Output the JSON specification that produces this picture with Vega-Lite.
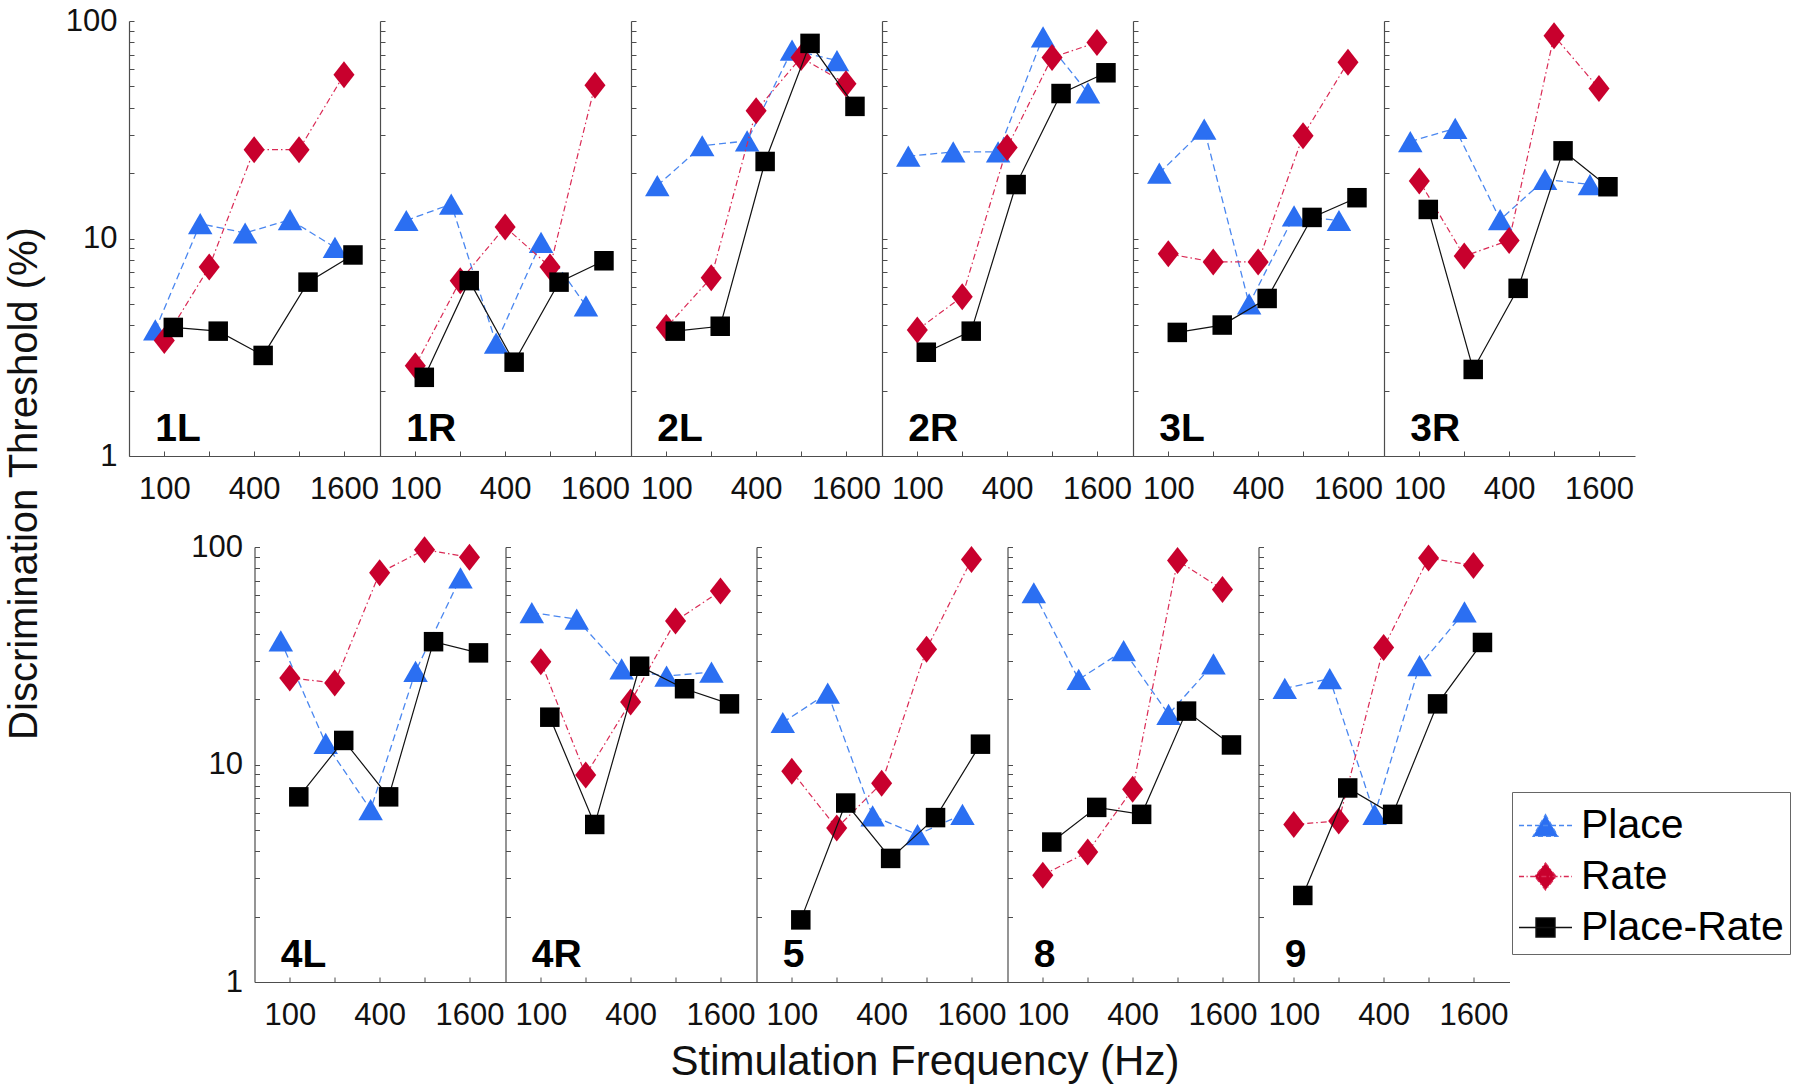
{
"$schema":"https://vega.github.io/schema/vega-lite/v6.json",
"background":"white",
"padding":5,
"title":{"text":"Discrimination Threshold (%)","orient":"left","anchor":"middle","fontSize":40,"font":"Liberation Sans","fontWeight":"normal","color":"#111111","offset":20,"dx":60},
"data":{"values":[
{"panel":"1L","method":"Place","freq":100,"threshold":3.8},{"panel":"1L","method":"Place","freq":200,"threshold":11.7},{"panel":"1L","method":"Place","freq":400,"threshold":10.6},{"panel":"1L","method":"Place","freq":800,"threshold":12.2},{"panel":"1L","method":"Place","freq":1600,"threshold":9.1},
{"panel":"1L","method":"Rate","freq":100,"threshold":3.4},{"panel":"1L","method":"Rate","freq":200,"threshold":7.4},{"panel":"1L","method":"Rate","freq":400,"threshold":25.6},{"panel":"1L","method":"Rate","freq":800,"threshold":25.6},{"panel":"1L","method":"Rate","freq":1600,"threshold":56.6},
{"panel":"1L","method":"Place-Rate","freq":100,"threshold":3.9},{"panel":"1L","method":"Place-Rate","freq":200,"threshold":3.75},{"panel":"1L","method":"Place-Rate","freq":400,"threshold":2.9},{"panel":"1L","method":"Place-Rate","freq":800,"threshold":6.3},{"panel":"1L","method":"Place-Rate","freq":1600,"threshold":8.4},
{"panel":"1R","method":"Place","freq":100,"threshold":12.1},{"panel":"1R","method":"Place","freq":200,"threshold":14.4},{"panel":"1R","method":"Place","freq":400,"threshold":3.3},{"panel":"1R","method":"Place","freq":800,"threshold":9.6},{"panel":"1R","method":"Place","freq":1600,"threshold":4.9},
{"panel":"1R","method":"Rate","freq":100,"threshold":2.6},{"panel":"1R","method":"Rate","freq":200,"threshold":6.4},{"panel":"1R","method":"Rate","freq":400,"threshold":11.3},{"panel":"1R","method":"Rate","freq":800,"threshold":7.4},{"panel":"1R","method":"Rate","freq":1600,"threshold":50.6},
{"panel":"1R","method":"Place-Rate","freq":100,"threshold":2.3},{"panel":"1R","method":"Place-Rate","freq":200,"threshold":6.4},{"panel":"1R","method":"Place-Rate","freq":400,"threshold":2.7},{"panel":"1R","method":"Place-Rate","freq":800,"threshold":6.3},{"panel":"1R","method":"Place-Rate","freq":1600,"threshold":7.9},
{"panel":"2L","method":"Place","freq":100,"threshold":17.5},{"panel":"2L","method":"Place","freq":200,"threshold":26.7},{"panel":"2L","method":"Place","freq":400,"threshold":28.1},{"panel":"2L","method":"Place","freq":800,"threshold":73.5},{"panel":"2L","method":"Place","freq":1600,"threshold":65.8},
{"panel":"2L","method":"Rate","freq":100,"threshold":3.9},{"panel":"2L","method":"Rate","freq":200,"threshold":6.6},{"panel":"2L","method":"Rate","freq":400,"threshold":38.7},{"panel":"2L","method":"Rate","freq":800,"threshold":68},{"panel":"2L","method":"Rate","freq":1600,"threshold":51.5},
{"panel":"2L","method":"Place-Rate","freq":100,"threshold":3.75},{"panel":"2L","method":"Place-Rate","freq":200,"threshold":3.95},{"panel":"2L","method":"Place-Rate","freq":400,"threshold":22.6},{"panel":"2L","method":"Place-Rate","freq":800,"threshold":78.9},{"panel":"2L","method":"Place-Rate","freq":1600,"threshold":40.5},
{"panel":"2R","method":"Place","freq":100,"threshold":23.9},{"panel":"2R","method":"Place","freq":200,"threshold":25},{"panel":"2R","method":"Place","freq":400,"threshold":25},{"panel":"2R","method":"Place","freq":800,"threshold":84.5},{"panel":"2R","method":"Place","freq":1600,"threshold":46.7},
{"panel":"2R","method":"Rate","freq":100,"threshold":3.8},{"panel":"2R","method":"Rate","freq":200,"threshold":5.4},{"panel":"2R","method":"Rate","freq":400,"threshold":26.2},{"panel":"2R","method":"Rate","freq":800,"threshold":68},{"panel":"2R","method":"Rate","freq":1600,"threshold":79.7},
{"panel":"2R","method":"Place-Rate","freq":100,"threshold":3.0},{"panel":"2R","method":"Place-Rate","freq":200,"threshold":3.75},{"panel":"2R","method":"Place-Rate","freq":400,"threshold":17.7},{"panel":"2R","method":"Place-Rate","freq":800,"threshold":46.4},{"panel":"2R","method":"Place-Rate","freq":1600,"threshold":57.8},
{"panel":"3L","method":"Place","freq":100,"threshold":20},{"panel":"3L","method":"Place","freq":200,"threshold":31.8},{"panel":"3L","method":"Place","freq":400,"threshold":5.0},{"panel":"3L","method":"Place","freq":800,"threshold":12.7},{"panel":"3L","method":"Place","freq":1600,"threshold":12.1},
{"panel":"3L","method":"Rate","freq":100,"threshold":8.5},{"panel":"3L","method":"Rate","freq":200,"threshold":7.8},{"panel":"3L","method":"Rate","freq":400,"threshold":7.8},{"panel":"3L","method":"Rate","freq":800,"threshold":29.7},{"panel":"3L","method":"Rate","freq":1600,"threshold":64.6},
{"panel":"3L","method":"Place-Rate","freq":100,"threshold":3.7},{"panel":"3L","method":"Place-Rate","freq":200,"threshold":4.0},{"panel":"3L","method":"Place-Rate","freq":400,"threshold":5.3},{"panel":"3L","method":"Place-Rate","freq":800,"threshold":12.5},{"panel":"3L","method":"Place-Rate","freq":1600,"threshold":15.4},
{"panel":"3R","method":"Place","freq":100,"threshold":27.9},{"panel":"3R","method":"Place","freq":200,"threshold":32.1},{"panel":"3R","method":"Place","freq":400,"threshold":12.2},{"panel":"3R","method":"Place","freq":800,"threshold":18.7},{"panel":"3R","method":"Place","freq":1600,"threshold":17.7},
{"panel":"3R","method":"Rate","freq":100,"threshold":18.4},{"panel":"3R","method":"Rate","freq":200,"threshold":8.3},{"panel":"3R","method":"Rate","freq":400,"threshold":9.8},{"panel":"3R","method":"Rate","freq":800,"threshold":85.5},{"panel":"3R","method":"Rate","freq":1600,"threshold":48.9},
{"panel":"3R","method":"Place-Rate","freq":100,"threshold":13.6},{"panel":"3R","method":"Place-Rate","freq":200,"threshold":2.5},{"panel":"3R","method":"Place-Rate","freq":400,"threshold":5.9},{"panel":"3R","method":"Place-Rate","freq":800,"threshold":25.3},{"panel":"3R","method":"Place-Rate","freq":1600,"threshold":17.3},
{"panel":"4L","method":"Place","freq":100,"threshold":37},{"panel":"4L","method":"Place","freq":200,"threshold":12.5},{"panel":"4L","method":"Place","freq":400,"threshold":6.2},{"panel":"4L","method":"Place","freq":800,"threshold":26.8},{"panel":"4L","method":"Place","freq":1600,"threshold":72.2},
{"panel":"4L","method":"Rate","freq":100,"threshold":25},{"panel":"4L","method":"Rate","freq":200,"threshold":23.7},{"panel":"4L","method":"Rate","freq":400,"threshold":76.1},{"panel":"4L","method":"Rate","freq":800,"threshold":97.2},{"panel":"4L","method":"Rate","freq":1600,"threshold":89.7},
{"panel":"4L","method":"Place-Rate","freq":100,"threshold":7.1},{"panel":"4L","method":"Place-Rate","freq":200,"threshold":12.9},{"panel":"4L","method":"Place-Rate","freq":400,"threshold":7.1},{"panel":"4L","method":"Place-Rate","freq":800,"threshold":36.7},{"panel":"4L","method":"Place-Rate","freq":1600,"threshold":32.6},
{"panel":"4R","method":"Place","freq":100,"threshold":49.9},{"panel":"4R","method":"Place","freq":200,"threshold":46.6},{"panel":"4R","method":"Place","freq":400,"threshold":27.5},{"panel":"4R","method":"Place","freq":800,"threshold":25.5},{"panel":"4R","method":"Place","freq":1600,"threshold":26.6},
{"panel":"4R","method":"Rate","freq":100,"threshold":29.7},{"panel":"4R","method":"Rate","freq":200,"threshold":8.95},{"panel":"4R","method":"Rate","freq":400,"threshold":19.4},{"panel":"4R","method":"Rate","freq":800,"threshold":45.7},{"panel":"4R","method":"Rate","freq":1600,"threshold":62.7},
{"panel":"4R","method":"Place-Rate","freq":100,"threshold":16.5},{"panel":"4R","method":"Place-Rate","freq":200,"threshold":5.3},{"panel":"4R","method":"Place-Rate","freq":400,"threshold":28.3},{"panel":"4R","method":"Place-Rate","freq":800,"threshold":22.3},{"panel":"4R","method":"Place-Rate","freq":1600,"threshold":19},
{"panel":"5","method":"Place","freq":100,"threshold":15.6},{"panel":"5","method":"Place","freq":200,"threshold":21.3},{"panel":"5","method":"Place","freq":400,"threshold":5.8},{"panel":"5","method":"Place","freq":800,"threshold":4.76},{"panel":"5","method":"Place","freq":1600,"threshold":5.9},
{"panel":"5","method":"Rate","freq":100,"threshold":9.3},{"panel":"5","method":"Rate","freq":200,"threshold":5.1},{"panel":"5","method":"Rate","freq":400,"threshold":8.2},{"panel":"5","method":"Rate","freq":800,"threshold":33.9},{"panel":"5","method":"Rate","freq":1600,"threshold":87.5},
{"panel":"5","method":"Place-Rate","freq":100,"threshold":1.93},{"panel":"5","method":"Place-Rate","freq":200,"threshold":6.65},{"panel":"5","method":"Place-Rate","freq":400,"threshold":3.7},{"panel":"5","method":"Place-Rate","freq":800,"threshold":5.7},{"panel":"5","method":"Place-Rate","freq":1600,"threshold":12.4},
{"panel":"8","method":"Place","freq":100,"threshold":61.6},{"panel":"8","method":"Place","freq":200,"threshold":24.6},{"panel":"8","method":"Place","freq":400,"threshold":33.4},{"panel":"8","method":"Place","freq":800,"threshold":17},{"panel":"8","method":"Place","freq":1600,"threshold":29},
{"panel":"8","method":"Rate","freq":100,"threshold":3.1},{"panel":"8","method":"Rate","freq":200,"threshold":3.96},{"panel":"8","method":"Rate","freq":400,"threshold":7.7},{"panel":"8","method":"Rate","freq":800,"threshold":86.6},{"panel":"8","method":"Rate","freq":1600,"threshold":63.8},
{"panel":"8","method":"Place-Rate","freq":100,"threshold":4.4},{"panel":"8","method":"Place-Rate","freq":200,"threshold":6.35},{"panel":"8","method":"Place-Rate","freq":400,"threshold":5.9},{"panel":"8","method":"Place-Rate","freq":800,"threshold":17.6},{"panel":"8","method":"Place-Rate","freq":1600,"threshold":12.3},
{"panel":"9","method":"Place","freq":100,"threshold":22.4},{"panel":"9","method":"Place","freq":200,"threshold":24.8},{"panel":"9","method":"Place","freq":400,"threshold":5.9},{"panel":"9","method":"Place","freq":800,"threshold":28.5},{"panel":"9","method":"Place","freq":1600,"threshold":50.3},
{"panel":"9","method":"Rate","freq":100,"threshold":5.3},{"panel":"9","method":"Rate","freq":200,"threshold":5.5},{"panel":"9","method":"Rate","freq":400,"threshold":34.5},{"panel":"9","method":"Rate","freq":800,"threshold":89.1},{"panel":"9","method":"Rate","freq":1600,"threshold":82.2},
{"panel":"9","method":"Place-Rate","freq":100,"threshold":2.5},{"panel":"9","method":"Place-Rate","freq":200,"threshold":7.8},{"panel":"9","method":"Place-Rate","freq":400,"threshold":5.9},{"panel":"9","method":"Place-Rate","freq":800,"threshold":19},{"panel":"9","method":"Place-Rate","freq":1600,"threshold":36.4}
]},
"spacing":26,
"center":true,
"vconcat":[
{"hconcat":[
{"width":251,"height":435,"transform":[{"filter":"datum.panel==='1L'"}],
"encoding":{"x":{"field":"freq","type":"quantitative","scale":{"type":"log","domain":[58,2790],"nice":false},"axis":{"values":[100,200,400,800,1600],"labelExpr":"datum.value==200||datum.value==800 ? '' : format(datum.value,'d')","title":null}},
"y":{"field":"threshold","type":"quantitative","scale":{"type":"log","domain":[1,100],"nice":false},"axis":{"values":[1,2,3,4,5,6,7,8,9,10,20,30,40,50,60,70,80,90,100],"labelExpr":"datum.value==1||datum.value==10||datum.value==100 ? format(datum.value,'d') : ''","title":null}}},
"layer":[
{"transform":[{"filter":"datum.method==='Place'"}],"mark":{"type":"line","xOffset":-9,"color":"#4a87f0","strokeWidth":1.3,"strokeDash":[7,4]}},
{"transform":[{"filter":"datum.method==='Place'"}],"mark":{"type":"point","shape":"triangle-up","filled":true,"opacity":1,"size":600,"color":"#2b6ff2","xOffset":-9}},
{"transform":[{"filter":"datum.method==='Rate'"}],"mark":{"type":"line","color":"#da2a55","strokeWidth":1.2,"strokeDash":[6,3,1.5,3]}},
{"transform":[{"filter":"datum.method==='Rate'"}],"mark":{"type":"point","shape":"M0,-1L0.78,0L0,1L-0.78,0Z","filled":true,"opacity":1,"size":729,"color":"#c8002d"}},
{"transform":[{"filter":"datum.method==='Place-Rate'"}],"mark":{"type":"line","xOffset":9,"color":"#111111","strokeWidth":1.2}},
{"transform":[{"filter":"datum.method==='Place-Rate'"}],"mark":{"type":"point","shape":"square","filled":true,"opacity":1,"size":380,"color":"#000000","xOffset":9}},
{"transform":[{"filter":"datum.method==='Rate' && datum.freq===100"}],"mark":{"type":"text","align":"left","baseline":"alphabetic","dx":-9,"font":"Liberation Sans","fontSize":39,"fontWeight":"bold","color":"#000000"},"encoding":{"y":{"datum":1.17,"type":"quantitative"},"text":{"field":"panel","type":"nominal"}}}
]},
{"width":251,"height":435,"transform":[{"filter":"datum.panel==='1R'"}],
"encoding":{"x":{"field":"freq","type":"quantitative","scale":{"type":"log","domain":[58,2790],"nice":false},"axis":{"values":[100,200,400,800,1600],"labelExpr":"datum.value==200||datum.value==800 ? '' : format(datum.value,'d')","title":null}},
"y":{"field":"threshold","type":"quantitative","scale":{"type":"log","domain":[1,100],"nice":false},"axis":{"values":[1,2,3,4,5,6,7,8,9,10,20,30,40,50,60,70,80,90,100],"labels":false,"title":null}}},
"layer":[
{"transform":[{"filter":"datum.method==='Place'"}],"mark":{"type":"line","xOffset":-9,"color":"#4a87f0","strokeWidth":1.3,"strokeDash":[7,4]}},
{"transform":[{"filter":"datum.method==='Place'"}],"mark":{"type":"point","shape":"triangle-up","filled":true,"opacity":1,"size":600,"color":"#2b6ff2","xOffset":-9}},
{"transform":[{"filter":"datum.method==='Rate'"}],"mark":{"type":"line","color":"#da2a55","strokeWidth":1.2,"strokeDash":[6,3,1.5,3]}},
{"transform":[{"filter":"datum.method==='Rate'"}],"mark":{"type":"point","shape":"M0,-1L0.78,0L0,1L-0.78,0Z","filled":true,"opacity":1,"size":729,"color":"#c8002d"}},
{"transform":[{"filter":"datum.method==='Place-Rate'"}],"mark":{"type":"line","xOffset":9,"color":"#111111","strokeWidth":1.2}},
{"transform":[{"filter":"datum.method==='Place-Rate'"}],"mark":{"type":"point","shape":"square","filled":true,"opacity":1,"size":380,"color":"#000000","xOffset":9}},
{"transform":[{"filter":"datum.method==='Rate' && datum.freq===100"}],"mark":{"type":"text","align":"left","baseline":"alphabetic","dx":-9,"font":"Liberation Sans","fontSize":39,"fontWeight":"bold","color":"#000000"},"encoding":{"y":{"datum":1.17,"type":"quantitative"},"text":{"field":"panel","type":"nominal"}}}
]},
{"width":251,"height":435,"transform":[{"filter":"datum.panel==='2L'"}],
"encoding":{"x":{"field":"freq","type":"quantitative","scale":{"type":"log","domain":[58,2790],"nice":false},"axis":{"values":[100,200,400,800,1600],"labelExpr":"datum.value==200||datum.value==800 ? '' : format(datum.value,'d')","title":null}},
"y":{"field":"threshold","type":"quantitative","scale":{"type":"log","domain":[1,100],"nice":false},"axis":{"values":[1,2,3,4,5,6,7,8,9,10,20,30,40,50,60,70,80,90,100],"labels":false,"title":null}}},
"layer":[
{"transform":[{"filter":"datum.method==='Place'"}],"mark":{"type":"line","xOffset":-9,"color":"#4a87f0","strokeWidth":1.3,"strokeDash":[7,4]}},
{"transform":[{"filter":"datum.method==='Place'"}],"mark":{"type":"point","shape":"triangle-up","filled":true,"opacity":1,"size":600,"color":"#2b6ff2","xOffset":-9}},
{"transform":[{"filter":"datum.method==='Rate'"}],"mark":{"type":"line","color":"#da2a55","strokeWidth":1.2,"strokeDash":[6,3,1.5,3]}},
{"transform":[{"filter":"datum.method==='Rate'"}],"mark":{"type":"point","shape":"M0,-1L0.78,0L0,1L-0.78,0Z","filled":true,"opacity":1,"size":729,"color":"#c8002d"}},
{"transform":[{"filter":"datum.method==='Place-Rate'"}],"mark":{"type":"line","xOffset":9,"color":"#111111","strokeWidth":1.2}},
{"transform":[{"filter":"datum.method==='Place-Rate'"}],"mark":{"type":"point","shape":"square","filled":true,"opacity":1,"size":380,"color":"#000000","xOffset":9}},
{"transform":[{"filter":"datum.method==='Rate' && datum.freq===100"}],"mark":{"type":"text","align":"left","baseline":"alphabetic","dx":-9,"font":"Liberation Sans","fontSize":39,"fontWeight":"bold","color":"#000000"},"encoding":{"y":{"datum":1.17,"type":"quantitative"},"text":{"field":"panel","type":"nominal"}}}
]},
{"width":251,"height":435,"transform":[{"filter":"datum.panel==='2R'"}],
"encoding":{"x":{"field":"freq","type":"quantitative","scale":{"type":"log","domain":[58,2790],"nice":false},"axis":{"values":[100,200,400,800,1600],"labelExpr":"datum.value==200||datum.value==800 ? '' : format(datum.value,'d')","title":null}},
"y":{"field":"threshold","type":"quantitative","scale":{"type":"log","domain":[1,100],"nice":false},"axis":{"values":[1,2,3,4,5,6,7,8,9,10,20,30,40,50,60,70,80,90,100],"labels":false,"title":null}}},
"layer":[
{"transform":[{"filter":"datum.method==='Place'"}],"mark":{"type":"line","xOffset":-9,"color":"#4a87f0","strokeWidth":1.3,"strokeDash":[7,4]}},
{"transform":[{"filter":"datum.method==='Place'"}],"mark":{"type":"point","shape":"triangle-up","filled":true,"opacity":1,"size":600,"color":"#2b6ff2","xOffset":-9}},
{"transform":[{"filter":"datum.method==='Rate'"}],"mark":{"type":"line","color":"#da2a55","strokeWidth":1.2,"strokeDash":[6,3,1.5,3]}},
{"transform":[{"filter":"datum.method==='Rate'"}],"mark":{"type":"point","shape":"M0,-1L0.78,0L0,1L-0.78,0Z","filled":true,"opacity":1,"size":729,"color":"#c8002d"}},
{"transform":[{"filter":"datum.method==='Place-Rate'"}],"mark":{"type":"line","xOffset":9,"color":"#111111","strokeWidth":1.2}},
{"transform":[{"filter":"datum.method==='Place-Rate'"}],"mark":{"type":"point","shape":"square","filled":true,"opacity":1,"size":380,"color":"#000000","xOffset":9}},
{"transform":[{"filter":"datum.method==='Rate' && datum.freq===100"}],"mark":{"type":"text","align":"left","baseline":"alphabetic","dx":-9,"font":"Liberation Sans","fontSize":39,"fontWeight":"bold","color":"#000000"},"encoding":{"y":{"datum":1.17,"type":"quantitative"},"text":{"field":"panel","type":"nominal"}}}
]},
{"width":251,"height":435,"transform":[{"filter":"datum.panel==='3L'"}],
"encoding":{"x":{"field":"freq","type":"quantitative","scale":{"type":"log","domain":[58,2790],"nice":false},"axis":{"values":[100,200,400,800,1600],"labelExpr":"datum.value==200||datum.value==800 ? '' : format(datum.value,'d')","title":null}},
"y":{"field":"threshold","type":"quantitative","scale":{"type":"log","domain":[1,100],"nice":false},"axis":{"values":[1,2,3,4,5,6,7,8,9,10,20,30,40,50,60,70,80,90,100],"labels":false,"title":null}}},
"layer":[
{"transform":[{"filter":"datum.method==='Place'"}],"mark":{"type":"line","xOffset":-9,"color":"#4a87f0","strokeWidth":1.3,"strokeDash":[7,4]}},
{"transform":[{"filter":"datum.method==='Place'"}],"mark":{"type":"point","shape":"triangle-up","filled":true,"opacity":1,"size":600,"color":"#2b6ff2","xOffset":-9}},
{"transform":[{"filter":"datum.method==='Rate'"}],"mark":{"type":"line","color":"#da2a55","strokeWidth":1.2,"strokeDash":[6,3,1.5,3]}},
{"transform":[{"filter":"datum.method==='Rate'"}],"mark":{"type":"point","shape":"M0,-1L0.78,0L0,1L-0.78,0Z","filled":true,"opacity":1,"size":729,"color":"#c8002d"}},
{"transform":[{"filter":"datum.method==='Place-Rate'"}],"mark":{"type":"line","xOffset":9,"color":"#111111","strokeWidth":1.2}},
{"transform":[{"filter":"datum.method==='Place-Rate'"}],"mark":{"type":"point","shape":"square","filled":true,"opacity":1,"size":380,"color":"#000000","xOffset":9}},
{"transform":[{"filter":"datum.method==='Rate' && datum.freq===100"}],"mark":{"type":"text","align":"left","baseline":"alphabetic","dx":-9,"font":"Liberation Sans","fontSize":39,"fontWeight":"bold","color":"#000000"},"encoding":{"y":{"datum":1.17,"type":"quantitative"},"text":{"field":"panel","type":"nominal"}}}
]},
{"width":251,"height":435,"transform":[{"filter":"datum.panel==='3R'"}],
"encoding":{"x":{"field":"freq","type":"quantitative","scale":{"type":"log","domain":[58,2790],"nice":false},"axis":{"values":[100,200,400,800,1600],"labelExpr":"datum.value==200||datum.value==800 ? '' : format(datum.value,'d')","title":null}},
"y":{"field":"threshold","type":"quantitative","scale":{"type":"log","domain":[1,100],"nice":false},"axis":{"values":[1,2,3,4,5,6,7,8,9,10,20,30,40,50,60,70,80,90,100],"labels":false,"title":null}}},
"layer":[
{"transform":[{"filter":"datum.method==='Place'"}],"mark":{"type":"line","xOffset":-9,"color":"#4a87f0","strokeWidth":1.3,"strokeDash":[7,4]}},
{"transform":[{"filter":"datum.method==='Place'"}],"mark":{"type":"point","shape":"triangle-up","filled":true,"opacity":1,"size":600,"color":"#2b6ff2","xOffset":-9}},
{"transform":[{"filter":"datum.method==='Rate'"}],"mark":{"type":"line","color":"#da2a55","strokeWidth":1.2,"strokeDash":[6,3,1.5,3]}},
{"transform":[{"filter":"datum.method==='Rate'"}],"mark":{"type":"point","shape":"M0,-1L0.78,0L0,1L-0.78,0Z","filled":true,"opacity":1,"size":729,"color":"#c8002d"}},
{"transform":[{"filter":"datum.method==='Place-Rate'"}],"mark":{"type":"line","xOffset":9,"color":"#111111","strokeWidth":1.2}},
{"transform":[{"filter":"datum.method==='Place-Rate'"}],"mark":{"type":"point","shape":"square","filled":true,"opacity":1,"size":380,"color":"#000000","xOffset":9}},
{"transform":[{"filter":"datum.method==='Rate' && datum.freq===100"}],"mark":{"type":"text","align":"left","baseline":"alphabetic","dx":-9,"font":"Liberation Sans","fontSize":39,"fontWeight":"bold","color":"#000000"},"encoding":{"y":{"datum":1.17,"type":"quantitative"},"text":{"field":"panel","type":"nominal"}}}
]}
],"spacing":0,"bounds":"flush"},
{"hconcat":[
{"width":251,"height":435,"transform":[{"filter":"datum.panel==='4L'"}],
"encoding":{"x":{"field":"freq","type":"quantitative","scale":{"type":"log","domain":[58,2790],"nice":false},"axis":{"values":[100,200,400,800,1600],"labelExpr":"datum.value==200||datum.value==800 ? '' : format(datum.value,'d')","title":null}},
"y":{"field":"threshold","type":"quantitative","scale":{"type":"log","domain":[1,100],"nice":false},"axis":{"values":[1,2,3,4,5,6,7,8,9,10,20,30,40,50,60,70,80,90,100],"labelExpr":"datum.value==1||datum.value==10||datum.value==100 ? format(datum.value,'d') : ''","title":null}}},
"layer":[
{"transform":[{"filter":"datum.method==='Place'"}],"mark":{"type":"line","xOffset":-9,"color":"#4a87f0","strokeWidth":1.3,"strokeDash":[7,4]}},
{"transform":[{"filter":"datum.method==='Place'"}],"mark":{"type":"point","shape":"triangle-up","filled":true,"opacity":1,"size":600,"color":"#2b6ff2","xOffset":-9}},
{"transform":[{"filter":"datum.method==='Rate'"}],"mark":{"type":"line","color":"#da2a55","strokeWidth":1.2,"strokeDash":[6,3,1.5,3]}},
{"transform":[{"filter":"datum.method==='Rate'"}],"mark":{"type":"point","shape":"M0,-1L0.78,0L0,1L-0.78,0Z","filled":true,"opacity":1,"size":729,"color":"#c8002d"}},
{"transform":[{"filter":"datum.method==='Place-Rate'"}],"mark":{"type":"line","xOffset":9,"color":"#111111","strokeWidth":1.2}},
{"transform":[{"filter":"datum.method==='Place-Rate'"}],"mark":{"type":"point","shape":"square","filled":true,"opacity":1,"size":380,"color":"#000000","xOffset":9}},
{"transform":[{"filter":"datum.method==='Rate' && datum.freq===100"}],"mark":{"type":"text","align":"left","baseline":"alphabetic","dx":-9,"font":"Liberation Sans","fontSize":39,"fontWeight":"bold","color":"#000000"},"encoding":{"y":{"datum":1.17,"type":"quantitative"},"text":{"field":"panel","type":"nominal"}}}
]},
{"width":251,"height":435,"transform":[{"filter":"datum.panel==='4R'"}],
"encoding":{"x":{"field":"freq","type":"quantitative","scale":{"type":"log","domain":[58,2790],"nice":false},"axis":{"values":[100,200,400,800,1600],"labelExpr":"datum.value==200||datum.value==800 ? '' : format(datum.value,'d')","title":null}},
"y":{"field":"threshold","type":"quantitative","scale":{"type":"log","domain":[1,100],"nice":false},"axis":{"values":[1,2,3,4,5,6,7,8,9,10,20,30,40,50,60,70,80,90,100],"labels":false,"title":null}}},
"layer":[
{"transform":[{"filter":"datum.method==='Place'"}],"mark":{"type":"line","xOffset":-9,"color":"#4a87f0","strokeWidth":1.3,"strokeDash":[7,4]}},
{"transform":[{"filter":"datum.method==='Place'"}],"mark":{"type":"point","shape":"triangle-up","filled":true,"opacity":1,"size":600,"color":"#2b6ff2","xOffset":-9}},
{"transform":[{"filter":"datum.method==='Rate'"}],"mark":{"type":"line","color":"#da2a55","strokeWidth":1.2,"strokeDash":[6,3,1.5,3]}},
{"transform":[{"filter":"datum.method==='Rate'"}],"mark":{"type":"point","shape":"M0,-1L0.78,0L0,1L-0.78,0Z","filled":true,"opacity":1,"size":729,"color":"#c8002d"}},
{"transform":[{"filter":"datum.method==='Place-Rate'"}],"mark":{"type":"line","xOffset":9,"color":"#111111","strokeWidth":1.2}},
{"transform":[{"filter":"datum.method==='Place-Rate'"}],"mark":{"type":"point","shape":"square","filled":true,"opacity":1,"size":380,"color":"#000000","xOffset":9}},
{"transform":[{"filter":"datum.method==='Rate' && datum.freq===100"}],"mark":{"type":"text","align":"left","baseline":"alphabetic","dx":-9,"font":"Liberation Sans","fontSize":39,"fontWeight":"bold","color":"#000000"},"encoding":{"y":{"datum":1.17,"type":"quantitative"},"text":{"field":"panel","type":"nominal"}}}
]},
{"width":251,"height":435,"transform":[{"filter":"datum.panel==='5'"}],
"encoding":{"x":{"field":"freq","type":"quantitative","scale":{"type":"log","domain":[58,2790],"nice":false},"axis":{"values":[100,200,400,800,1600],"labelExpr":"datum.value==200||datum.value==800 ? '' : format(datum.value,'d')","title":"Stimulation Frequency (Hz)","titleX":168,"titleY":59,"titleBaseline":"top","titleFontSize":42}},
"y":{"field":"threshold","type":"quantitative","scale":{"type":"log","domain":[1,100],"nice":false},"axis":{"values":[1,2,3,4,5,6,7,8,9,10,20,30,40,50,60,70,80,90,100],"labels":false,"title":null}}},
"layer":[
{"transform":[{"filter":"datum.method==='Place'"}],"mark":{"type":"line","xOffset":-9,"color":"#4a87f0","strokeWidth":1.3,"strokeDash":[7,4]}},
{"transform":[{"filter":"datum.method==='Place'"}],"mark":{"type":"point","shape":"triangle-up","filled":true,"opacity":1,"size":600,"color":"#2b6ff2","xOffset":-9}},
{"transform":[{"filter":"datum.method==='Rate'"}],"mark":{"type":"line","color":"#da2a55","strokeWidth":1.2,"strokeDash":[6,3,1.5,3]}},
{"transform":[{"filter":"datum.method==='Rate'"}],"mark":{"type":"point","shape":"M0,-1L0.78,0L0,1L-0.78,0Z","filled":true,"opacity":1,"size":729,"color":"#c8002d"}},
{"transform":[{"filter":"datum.method==='Place-Rate'"}],"mark":{"type":"line","xOffset":9,"color":"#111111","strokeWidth":1.2}},
{"transform":[{"filter":"datum.method==='Place-Rate'"}],"mark":{"type":"point","shape":"square","filled":true,"opacity":1,"size":380,"color":"#000000","xOffset":9}},
{"transform":[{"filter":"datum.method==='Rate' && datum.freq===100"}],"mark":{"type":"text","align":"left","baseline":"alphabetic","dx":-9,"font":"Liberation Sans","fontSize":39,"fontWeight":"bold","color":"#000000"},"encoding":{"y":{"datum":1.17,"type":"quantitative"},"text":{"field":"panel","type":"nominal"}}}
]},
{"width":251,"height":435,"transform":[{"filter":"datum.panel==='8'"}],
"encoding":{"x":{"field":"freq","type":"quantitative","scale":{"type":"log","domain":[58,2790],"nice":false},"axis":{"values":[100,200,400,800,1600],"labelExpr":"datum.value==200||datum.value==800 ? '' : format(datum.value,'d')","title":null}},
"y":{"field":"threshold","type":"quantitative","scale":{"type":"log","domain":[1,100],"nice":false},"axis":{"values":[1,2,3,4,5,6,7,8,9,10,20,30,40,50,60,70,80,90,100],"labels":false,"title":null}}},
"layer":[
{"transform":[{"filter":"datum.method==='Place'"}],"mark":{"type":"line","xOffset":-9,"color":"#4a87f0","strokeWidth":1.3,"strokeDash":[7,4]}},
{"transform":[{"filter":"datum.method==='Place'"}],"mark":{"type":"point","shape":"triangle-up","filled":true,"opacity":1,"size":600,"color":"#2b6ff2","xOffset":-9}},
{"transform":[{"filter":"datum.method==='Rate'"}],"mark":{"type":"line","color":"#da2a55","strokeWidth":1.2,"strokeDash":[6,3,1.5,3]}},
{"transform":[{"filter":"datum.method==='Rate'"}],"mark":{"type":"point","shape":"M0,-1L0.78,0L0,1L-0.78,0Z","filled":true,"opacity":1,"size":729,"color":"#c8002d"}},
{"transform":[{"filter":"datum.method==='Place-Rate'"}],"mark":{"type":"line","xOffset":9,"color":"#111111","strokeWidth":1.2}},
{"transform":[{"filter":"datum.method==='Place-Rate'"}],"mark":{"type":"point","shape":"square","filled":true,"opacity":1,"size":380,"color":"#000000","xOffset":9}},
{"transform":[{"filter":"datum.method==='Rate' && datum.freq===100"}],"mark":{"type":"text","align":"left","baseline":"alphabetic","dx":-9,"font":"Liberation Sans","fontSize":39,"fontWeight":"bold","color":"#000000"},"encoding":{"y":{"datum":1.17,"type":"quantitative"},"text":{"field":"panel","type":"nominal"}}}
]},
{"width":251,"height":435,"transform":[{"filter":"datum.panel==='9'"}],
"encoding":{"x":{"field":"freq","type":"quantitative","scale":{"type":"log","domain":[58,2790],"nice":false},"axis":{"values":[100,200,400,800,1600],"labelExpr":"datum.value==200||datum.value==800 ? '' : format(datum.value,'d')","title":null}},
"y":{"field":"threshold","type":"quantitative","scale":{"type":"log","domain":[1,100],"nice":false},"axis":{"values":[1,2,3,4,5,6,7,8,9,10,20,30,40,50,60,70,80,90,100],"labels":false,"title":null}}},
"layer":[
{"transform":[{"filter":"datum.method==='Place'"}],"mark":{"type":"line","xOffset":-9,"color":"#4a87f0","strokeWidth":1.3,"strokeDash":[7,4]}},
{"transform":[{"filter":"datum.method==='Place'"}],"mark":{"type":"point","shape":"triangle-up","filled":true,"opacity":1,"size":600,"color":"#2b6ff2","xOffset":-9}},
{"transform":[{"filter":"datum.method==='Rate'"}],"mark":{"type":"line","color":"#da2a55","strokeWidth":1.2,"strokeDash":[6,3,1.5,3]}},
{"transform":[{"filter":"datum.method==='Rate'"}],"mark":{"type":"point","shape":"M0,-1L0.78,0L0,1L-0.78,0Z","filled":true,"opacity":1,"size":729,"color":"#c8002d"}},
{"transform":[{"filter":"datum.method==='Place-Rate'"}],"mark":{"type":"line","xOffset":9,"color":"#111111","strokeWidth":1.2}},
{"transform":[{"filter":"datum.method==='Place-Rate'"}],"mark":{"type":"point","shape":"square","filled":true,"opacity":1,"size":380,"color":"#000000","xOffset":9}},
{"transform":[{"filter":"datum.method==='Rate' && datum.freq===100"}],"mark":{"type":"text","align":"left","baseline":"alphabetic","dx":-9,"font":"Liberation Sans","fontSize":39,"fontWeight":"bold","color":"#000000"},"encoding":{"y":{"datum":1.17,"type":"quantitative"},"text":{"field":"panel","type":"nominal"}}},
{"transform":[{"filter":"false"}],"mark":{"type":"point","filled":true,"opacity":1,"strokeWidth":1.3,"size":2809},
"encoding":{
"color":{"field":"method","type":"nominal","scale":{"domain":["Place","Rate","Place-Rate"],"range":["#2b6ff2","#c8002d","#000000"]},"legend":{"title":null,"orient":"none","legendX":1383,"legendY":771}},
"stroke":{"field":"method","type":"nominal","scale":{"domain":["Place","Rate","Place-Rate"],"range":["#4a87f0","#da2a55","#111111"]},"legend":{"title":null,"orient":"none","legendX":1383,"legendY":771}},
"shape":{"field":"method","type":"nominal","scale":{"domain":["Place","Rate","Place-Rate"],"range":["M-1,0H1M0,-0.41L0.47,0.41L-0.47,0.41Z","M-1,0H1M0,-0.51L0.4,0L0,0.51L-0.4,0Z","M-1,0H1M-0.36,-0.36H0.36V0.36H-0.36Z"]},"legend":{"title":null,"orient":"none","legendX":1383,"legendY":771}},
"strokeDash":{"field":"method","type":"nominal","scale":{"domain":["Place","Rate","Place-Rate"],"range":[[5,3],[5,2.5,1.2,2.5],[1,0]]},"legend":{"title":null,"orient":"none","legendX":1383,"legendY":771}}}}
]}
],"spacing":0,"bounds":"flush"}
],
"config":{
"view":{"stroke":null},
"font":"Liberation Sans",
"axis":{"domainColor":"#4d4d4d","domainWidth":1.2,"tickColor":"#4d4d4d","tickWidth":1,"tickSize":-5,"labelColor":"#111111","labelFont":"Liberation Sans","labelFontSize":31,"grid":false,"titleFont":"Liberation Sans","titleFontWeight":"normal","titleColor":"#111111","titleFontSize":41,"labelOverlap":false,"labelFlush":false,"labelBound":false},
"axisX":{"labelPadding":23.7},
"axisY":{"labelPadding":17},
"legend":{"labelFont":"Liberation Sans","labelFontSize":41,"labelColor":"#000000","padding":6,"rowPadding":3,"labelOffset":8,"symbolStrokeWidth":1.3,"symbolSize":2809,"strokeColor":"#666666","fillColor":"#ffffff","labelLimit":400,"symbolOpacity":1}
}
}
